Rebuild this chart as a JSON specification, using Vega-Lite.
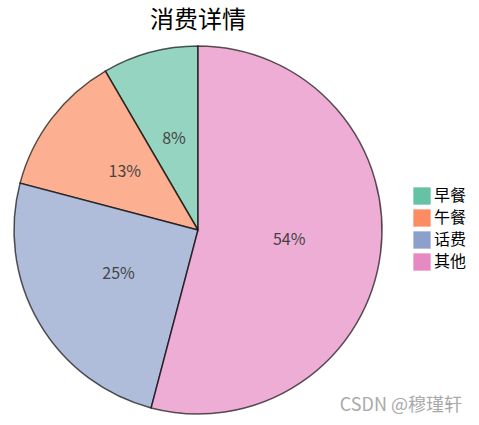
{
  "$schema": "https://vega.github.io/schema/vega-lite/v6.json",
  "autosize": {"type": "none"},
  "width": 370,
  "height": 368,
  "padding": {"left": 13, "top": 46, "right": 96, "bottom": 11},
  "background": "white",
  "config": {"view": {"stroke": null}, "font": "Noto Sans CJK SC"},
  "title": {"text": "消费详情", "fontSize": 24, "fontWeight": "normal", "color": "#000", "anchor": "middle", "offset": 10, "font": "Noto Sans CJK SC"},
  "data": {"values": [
    {"category": "早餐", "value": 8.4, "label": "8%"},
    {"category": "午餐", "value": 12.5, "label": "13%"},
    {"category": "话费", "value": 25.0, "label": "25%"},
    {"category": "其他", "value": 54.1, "label": "54%"}
  ]},
  "encoding": {
    "theta": {"field": "value", "type": "quantitative", "stack": true},
    "order": {"field": "value", "sort": "descending"},
    "color": {
      "field": "category", "type": "nominal",
      "scale": {"domain": ["早餐", "午餐", "话费", "其他"], "range": ["#66c2a5", "#fc8d62", "#8da0cb", "#e78ac3"]},
      "legend": {"title": null, "orient": "none", "legendX": 400, "legendY": 141, "symbolType": "square", "symbolSize": 300, "symbolOpacity": 1, "symbolStrokeWidth": 0, "labelFontSize": 16, "labelColor": "#000", "labelFont": "Noto Sans CJK SC", "rowPadding": 4, "labelOffset": 3}
    }
  },
  "layer": [
    {"mark": {"type": "arc", "outerRadius": 184, "fillOpacity": 0.7, "stroke": "#000", "strokeOpacity": 0.65, "strokeWidth": 1.5}},
    {"mark": {"type": "text", "radius": 92, "fontSize": 16, "fill": "#444", "font": "Noto Sans CJK SC", "dy": -2},
     "encoding": {"text": {"field": "label"}, "color": {"value": "#444"}}},
    {"data": {"values": [{"mark": "CSDN @穆瑾轩"}]},
     "mark": {"type": "text", "x": {"expr": "width + 79"}, "y": {"expr": "height + 1"}, "align": "right", "baseline": "bottom", "fontSize": 18, "fill": "#aaa", "font": "Noto Sans CJK SC"},
     "encoding": {"text": {"field": "mark"}, "theta": null, "order": null, "color": null}}
  ]
}
